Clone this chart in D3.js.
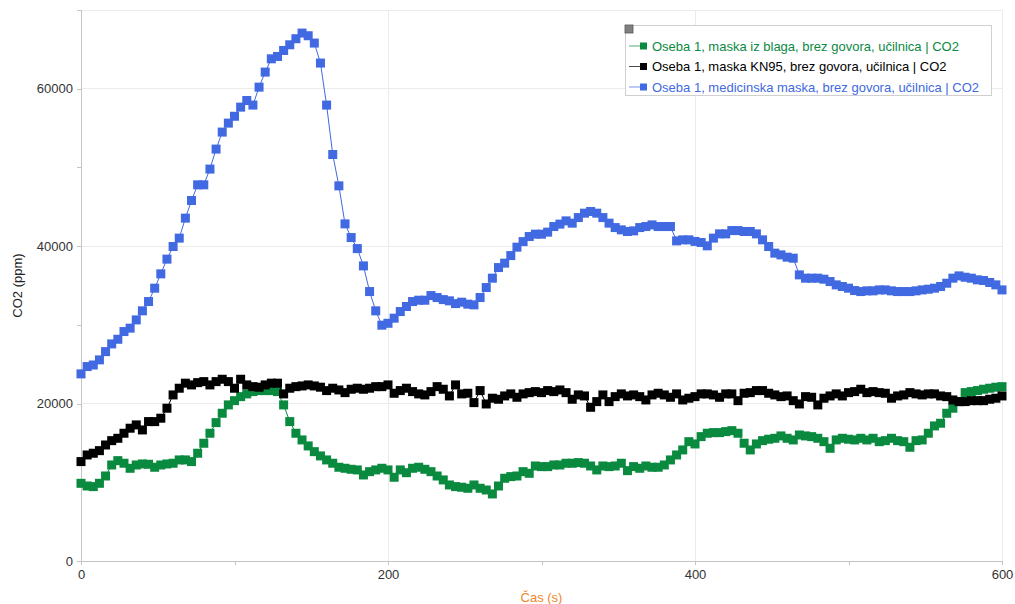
<!DOCTYPE html>
<html><head><meta charset="utf-8">
<script src="https://cdn.jsdelivr.net/npm/d3@7"></script>
<style>
html,body{margin:0;padding:0;background:#fff;}
svg{display:block;font-family:"Liberation Sans",Arial,sans-serif;}
</style></head>
<body>
<svg id="chart" width="1015" height="604"></svg>
<script>
// ---- data ----
const timeStep = 4; // seconds between samples, starting at 0
const seriesNames = [
  "Oseba 1, maska iz blaga, brez govora, učilnica | CO2",
  "Oseba 1, maska KN95, brez govora, učilnica | CO2",
  "Oseba 1, medicinska maska, brez govora, učilnica | CO2"
];
const seriesColors = ["#0a8a3f", "#000000", "#4169e1"];
const xTicks = [0, 200, 400, 600];
const xMinorTicks = [100, 300, 500];
const yTicks = [0, 20000, 40000, 60000];
const yMinorTicks = [10000, 30000, 50000, 70000];

const clothMask = [
  9870,9530,9450,9870,10800,12200,12750,12420,11780,12200,12330,12290,11910,12200,12330,12420,
  12840,12840,12630,13690,14960,16230,17580,18770,19830,20370,20880,21230,21520,21650,21650,21650,
  21520,19830,17710,16230,15380,14620,13890,13350,12840,12420,11910,11780,11650,11570,10930,11350,
  11570,11780,11570,10640,11570,11220,11780,11910,11650,11350,10800,10300,9660,9450,9370,9240,
  9660,9240,9020,8520,9530,10510,10720,10800,11350,11140,12070,11990,11990,12200,12200,12420,
  12420,12500,12420,12070,11570,12070,11990,12070,12420,11480,11990,11780,12070,11910,11910,12200,
  12840,13470,14110,15160,14870,15800,16230,16310,16310,16440,16560,16230,14960,14110,14870,15290,
  15470,15590,15890,15590,15380,16010,15890,15800,15590,15160,14320,15380,15590,15470,15380,15590,
  15380,15590,15160,15290,15590,15290,15160,14450,15290,15380,16230,17160,17500,18770,19410,20250,
  21390,21520,21650,21820,21950,22080,22150
];
const kn95Mask = [
  12630,13470,13690,14020,14740,15290,15590,16230,16870,17290,16650,17710,17710,18140,19410,21100,
  21950,22590,22370,22660,22790,22370,22790,23090,22790,21950,23090,22370,22150,22080,22370,22590,
  22590,21230,21950,22150,22240,22370,22240,22080,21650,21950,21730,21390,21820,21950,21820,21950,
  22150,22150,22370,21310,21650,21950,21520,21230,21100,21520,22150,21820,20970,22370,21230,21310,
  20120,21650,19950,20680,20550,20970,21230,20800,21230,21390,21520,21390,21650,21520,21730,21390,
  20550,21100,20970,19530,20250,21100,20250,20880,21230,20970,21100,20880,20460,21100,21310,21100,
  20800,21230,20460,20680,20880,21230,21230,21100,20800,21230,21230,20370,21310,21390,21650,21650,
  21310,21100,20880,20970,20370,19950,20880,20800,19830,20680,20970,21230,20970,21390,21520,21820,
  21390,21520,21390,21310,20680,20970,21100,21390,21230,21100,21230,21230,20970,20880,20460,20250,
  20250,20370,20370,20370,20550,20680,20970
];
const medicalMask = [
  23770,24700,24900,25550,26600,27580,28170,29150,29580,30630,31780,32960,34660,36480,38350,39950,
  41020,43560,45800,47790,47790,49790,52330,54490,55630,56500,57660,58500,57920,60200,62110,63800,
  64100,64860,65580,66350,67070,66730,65800,63260,57920,51640,47660,42830,41090,39690,37490,34230,
  31780,29960,30200,30850,31690,32330,32960,33130,33130,33720,33470,33210,33050,32700,32880,32630,
  32540,33470,34740,35930,37280,37840,38800,39870,40580,41220,41520,41520,41780,42490,42800,43210,
  42920,43630,44190,44400,44190,43630,42920,42360,42070,41860,41940,42360,42490,42700,42490,42490,
  42490,40670,40800,40800,40600,40460,40040,41020,41560,41560,41980,41980,41860,41860,41560,40800,
  39950,39110,38890,38600,38470,36350,35930,35930,35930,35800,35500,35080,34870,34660,34360,34230,
  34320,34320,34440,34440,34320,34230,34230,34230,34320,34440,34530,34660,34870,35290,35930,36220,
  36050,35930,35720,35630,35380,35080,34440
];
const allSeries = [clothMask, kn95Mask, medicalMask];

// ---- chart ----
const svg = d3.select("#chart");
const pLeft = 81, pRight = 1002, pTop = 10, pBottom = 561;
const x = d3.scaleLinear().domain([0, 600]).range([pLeft, pRight]);
const y = d3.scaleLinear().domain([0, 70000]).range([pBottom, pTop]);

// grid
const grid = svg.append("g");
grid.selectAll("line.h").data(yTicks.slice(1).concat([70000])).enter().append("line")
  .attr("x1", pLeft).attr("x2", pRight).attr("y1", d => y(d)).attr("y2", d => y(d))
  .attr("stroke", "#ebebeb").attr("stroke-width", 1).attr("shape-rendering", "crispEdges");
grid.selectAll("line.v").data(xTicks.slice(1)).enter().append("line")
  .attr("x1", d => x(d)).attr("x2", d => x(d)).attr("y1", pTop).attr("y2", pBottom)
  .attr("stroke", "#ebebeb").attr("stroke-width", 1).attr("shape-rendering", "crispEdges");

// axes
const yAxis = svg.append("g").attr("transform", `translate(${pLeft},0)`)
  .call(d3.axisLeft(y).tickValues(yTicks).tickFormat(d3.format("d")).tickSize(4).tickPadding(4));
const yMinor = svg.append("g").attr("transform", `translate(${pLeft},0)`)
  .call(d3.axisLeft(y).tickValues(yMinorTicks).tickFormat("").tickSize(4));
const xAxis = svg.append("g").attr("transform", `translate(0,${pBottom})`)
  .call(d3.axisBottom(x).tickValues(xTicks).tickFormat(d3.format("d")).tickSize(4).tickPadding(5));
const xMinor = svg.append("g").attr("transform", `translate(0,${pBottom})`)
  .call(d3.axisBottom(x).tickValues(xMinorTicks).tickFormat("").tickSize(4));
[yAxis, yMinor, xAxis, xMinor].forEach(g => {
  g.select(".domain").attr("stroke", "#c4c4c4").attr("shape-rendering", "crispEdges");
  g.selectAll(".tick line").attr("stroke", "#c4c4c4").attr("shape-rendering", "crispEdges");
  g.selectAll(".tick text").attr("fill", "#333").attr("font-size", 13)
    .attr("font-family", "'Liberation Sans', Arial, sans-serif");
});

// axis titles
svg.append("text").attr("transform", `translate(22,${(pTop + pBottom) / 2}) rotate(-90)`)
  .attr("text-anchor", "middle").attr("font-size", 13).attr("fill", "#222").text("CO2 (ppm)");
svg.append("text").attr("x", (pLeft + pRight) / 2).attr("y", 602)
  .attr("text-anchor", "middle").attr("font-size", 13).attr("fill", "#f0862a").text("Čas (s)");

// series
const ms = 9;
allSeries.forEach((vals, i) => {
  const pts = vals.map((v, k) => [k * timeStep, v]);
  const g = svg.append("g");
  g.append("path").datum(pts)
    .attr("fill", "none").attr("stroke", seriesColors[i]).attr("stroke-width", 1)
    .attr("d", d3.line().x(d => x(d[0])).y(d => y(d[1])));
  g.selectAll("rect").data(pts).enter().append("rect")
    .attr("x", d => x(d[0]) - ms / 2).attr("y", d => y(d[1]) - ms / 2)
    .attr("width", ms).attr("height", ms).attr("fill", seriesColors[i]);
});

// legend
const lg = svg.append("g");
lg.append("rect").attr("x", 625.5).attr("y", 25.5).attr("width", 366).attr("height", 70)
  .attr("fill", "#fff").attr("stroke", "#d0d0d0");
lg.append("rect").attr("x", 625).attr("y", 25).attr("width", 8).attr("height", 8)
  .attr("fill", "#808080").attr("stroke", "#555").attr("stroke-width", 0.8);
seriesNames.forEach((name, i) => {
  const cy = 46 + i * 20.5;
  lg.append("line").attr("x1", 629).attr("x2", 644).attr("y1", cy).attr("y2", cy)
    .attr("stroke", seriesColors[i]).attr("stroke-width", 1).attr("opacity", 0.7);
  lg.append("rect").attr("x", 640).attr("y", cy - 3.5).attr("width", 7).attr("height", 7)
    .attr("fill", seriesColors[i]);
  lg.append("text").attr("x", 652).attr("y", cy).attr("dy", "0.35em")
    .attr("font-size", 13).attr("fill", seriesColors[i]).text(name);
});
</script>
</body></html>
